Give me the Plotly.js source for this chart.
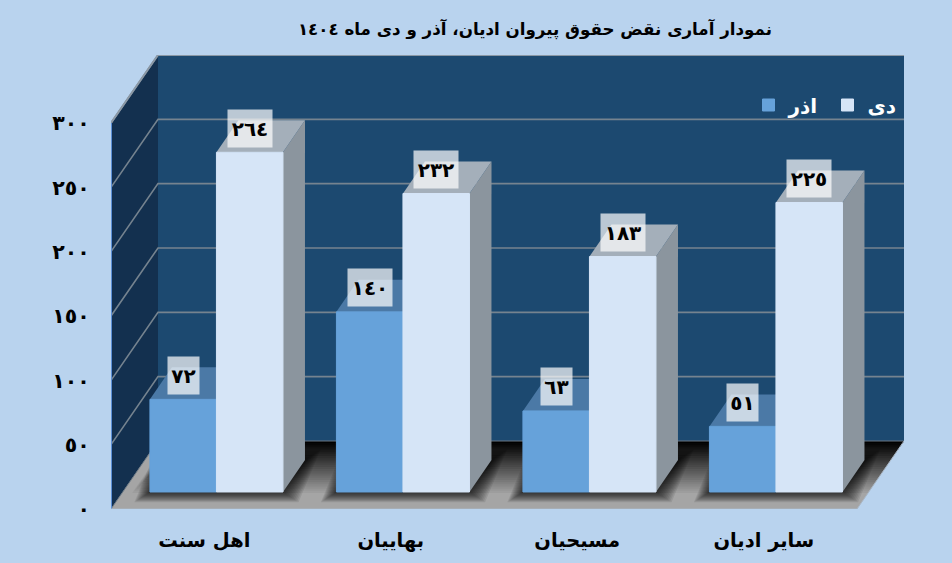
<!DOCTYPE html>
<html><head><meta charset="utf-8">
<script src="https://cdn.plot.ly/plotly-3.0.1.min.js"></script>
<style>html,body{margin:0;padding:0;background:#b9d3ee}#c{width:952px;height:563px}</style>
</head><body><div id="c"></div>
<script>
const categories = ['اهل سنت','بهاییان','مسیحیان','سایر ادیان'];
const azar = [72,140,63,51];
const dey = [264,232,183,225];
const axisTicks = [0,50,100,150,200,250,300];
const nameAzar = 'اذر', nameDey = 'دی';
const titleText = 'نمودار آماری نقض حقوق پیروان ادیان، آذر و دی ماه ١٤٠٤';

const FONT = '"DejaVu Sans", sans-serif';
const W = 952, H = 563, L = 111, R = 904, T = 55, B = 509;
const pxX = 186.5, pxY = 1.2867;
const xMin = -0.5, xMax = xMin + (R-L)/pxX, yMax = (B-T)/pxY;
const fdx = 47/pxX, fdy = 68/pxY;       // wall/floor depth
const bsx = 12.2/pxX, bsy = 17/pxY;     // bars' setback from the front plane
const bdx = 22/pxX, bdy = 32/pxY;       // bar depth
const gap = 0.2866, bw = (1-gap)/2;
const ar = n => String(n).replace(/\d/g, d => '٠١٢٣٤٥٦٧٨٩'[+d]);

function poly(xs, ys, color){
  return {type:'scatter',mode:'lines',x:[...xs,xs[0]],y:[...ys,ys[0]],fill:'toself',fillcolor:color,
    line:{width:0,color:color},hoverinfo:'skip',showlegend:false,xaxis:'x',yaxis:'y'};
}
function seg(xs, ys, color, width){
  return {type:'scatter',mode:'lines',x:xs,y:ys,line:{color:color,width:width},hoverinfo:'skip',showlegend:false,xaxis:'x',yaxis:'y'};
}
const xF = xMax - fdx; // right end of the floor's front edge
const sl = fdx/fdy;
const traces = [];
// walls
traces.push(poly([xMin+fdx,xMax,xMax,xMin+fdx],[fdy,fdy,yMax,yMax],'#1c4970'));
traces.push(poly([xMin,xMin+fdx,xMin+fdx,xMin],[0,fdy,yMax,yMax-fdy],'#13304f'));
// floor
traces.push(poly([xMin,xF,xMax,xMin+fdx],[0,0,fdy,fdy],'#a5a5a5'));
// floor darkening toward the back wall
const N = 24;
for(let k=1;k<=N;k++){
  const t = (k-1)/(N-1);
  const inL = (10 + 14*t)/pxX, inB = (16 + 50*t)/pxY;
  traces.push(poly(
    [xMin+inL+inB*sl, xF+inB*sl, xMax, xMin+fdx+inL],
    [inB, inB, fdy, fdy],'rgba(0,0,0,'+Math.min(0.9,1/(N-k+1)).toFixed(3)+')'));
}
// soft shadow round each pair of bars
categories.forEach((_,i)=>{
  const x0 = i+bsx-bw, x1 = i+bsx+bw;
  for(let e=12;e>=1;e--){
    const ex = e*1.3/pxX, ey = e*0.85/pxY;
    traces.push(poly(
      [x0-ex, x1+ex, x1+bdx+ex, x0+bdx-ex],
      [bsy-ey, bsy-ey, bsy+bdy+ey, bsy+bdy+ey],'rgba(0,0,0,0.085)'));
  }
});
// gridlines
axisTicks.forEach(v=>{
  traces.push(seg([xMin,xMin+fdx,xMax],[v,v+fdy,v+fdy],v===0?'#6b7782':'#75838f',v===0?1:1.6));
});
traces.push(seg([xMin,xMin+fdx,xMax],[yMax-fdy,yMax,yMax],'#8b98a5',2));
traces.push(seg([xMin,xMin],[0,yMax-fdy],'#5b8fd6',2));
traces.push(seg([xMin,xF,xMax],[0,0,fdy],'#a9b6c4',1));
// bar top and side faces
function faces(vals, off, top, side){
  vals.forEach((v,i)=>{
    const x0 = i+bsx+off-bw/2, x1 = x0+bw, y0 = bsy, y1 = bsy+v;
    traces.push(poly([x1,x1+bdx,x1+bdx,x1],[y0,y0+bdy,y1+bdy,y1],side));
    traces.push(poly([x0,x1,x1+bdx,x0+bdx],[y1,y1,y1+bdy,y1+bdy],top));
  });
}
faces(azar,-bw/2,'#4b79a6','#3f688f');
faces(dey,bw/2,'#a4afba','#8b959e');
// bars, front faces
const idx = categories.map((_,i)=>i);
traces.push({type:'bar',name:nameAzar,x:idx,y:azar,marker:{color:'#66a2da',line:{color:'#66a2da',width:1}},xaxis:'x2',yaxis:'y2',hovertemplate:'%{y}<extra>'+nameAzar+'</extra>'});
traces.push({type:'bar',name:nameDey,x:idx,y:dey,marker:{color:'#d6e5f7',line:{color:'#d6e5f7',width:1}},xaxis:'x2',yaxis:'y2',hovertemplate:'%{y}<extra>'+nameDey+'</extra>'});

function labels(vals, off){
  return vals.map((v,i)=>({
    xref:'x2',yref:'y2',x:i+off,y:v,yshift:24,text:ar(v),showarrow:false,
    font:{family:FONT,size:20,color:'#000',weight:700},
    bgcolor:'rgba(255,255,255,0.7)',width:String(v).length>2?44:31,height:37,borderpad:0,
    xanchor:'center',yanchor:'middle',align:'center',valign:'middle'
  }));
}
const layout = {
  width:W,height:H,
  paper_bgcolor:'#b9d3ee',plot_bgcolor:'rgba(0,0,0,0)',
  margin:{l:L,r:W-R,t:T,b:H-B,pad:0,autoexpand:false},
  showlegend:true,
  title:{text:titleText,x:535/W,xanchor:'center',y:1-29/H,yanchor:'middle',font:{family:FONT,size:16.7,color:'#000',weight:700}},
  barmode:'group',bargap:gap,bargroupgap:0,
  legend:{orientation:'h',x:(748.5-L)/(R-L),xanchor:'left',y:(B-85.5)/(B-T),yanchor:'top',
    bgcolor:'rgba(0,0,0,0)',entrywidth:34,entrywidthmode:'pixels',
    font:{family:FONT,size:20,color:'#fff',weight:700},traceorder:'normal'},
  xaxis:{type:'linear',range:[xMin,xMax],domain:[0,1],tickmode:'array',tickvals:idx,ticktext:categories,
    ticks:'outside',ticklen:14,tickcolor:'rgba(0,0,0,0)',showgrid:false,zeroline:false,showline:false,
    tickfont:{family:FONT,size:19.5,color:'#000',weight:700}},
  yaxis:{type:'linear',range:[0,yMax],domain:[0,1],tickmode:'array',tickvals:axisTicks,ticktext:axisTicks.map(ar),
    ticks:'outside',ticklen:16,tickcolor:'rgba(0,0,0,0)',showgrid:false,zeroline:false,showline:false,
    tickfont:{family:FONT,size:20.5,color:'#000',weight:700}},
  xaxis2:{type:'linear',range:[xMin-bsx,xMax-bsx],domain:[0,1],anchor:'y2',visible:false,fixedrange:true},
  yaxis2:{type:'linear',range:[-bsy,yMax-bsy],domain:[0,1],anchor:'x2',visible:false,fixedrange:true},
  annotations:[...labels(azar,-bw/2),...labels(dey,bw/2)]
};
Plotly.newPlot('c',traces,layout,{displayModeBar:false,responsive:false});
</script></body></html>
